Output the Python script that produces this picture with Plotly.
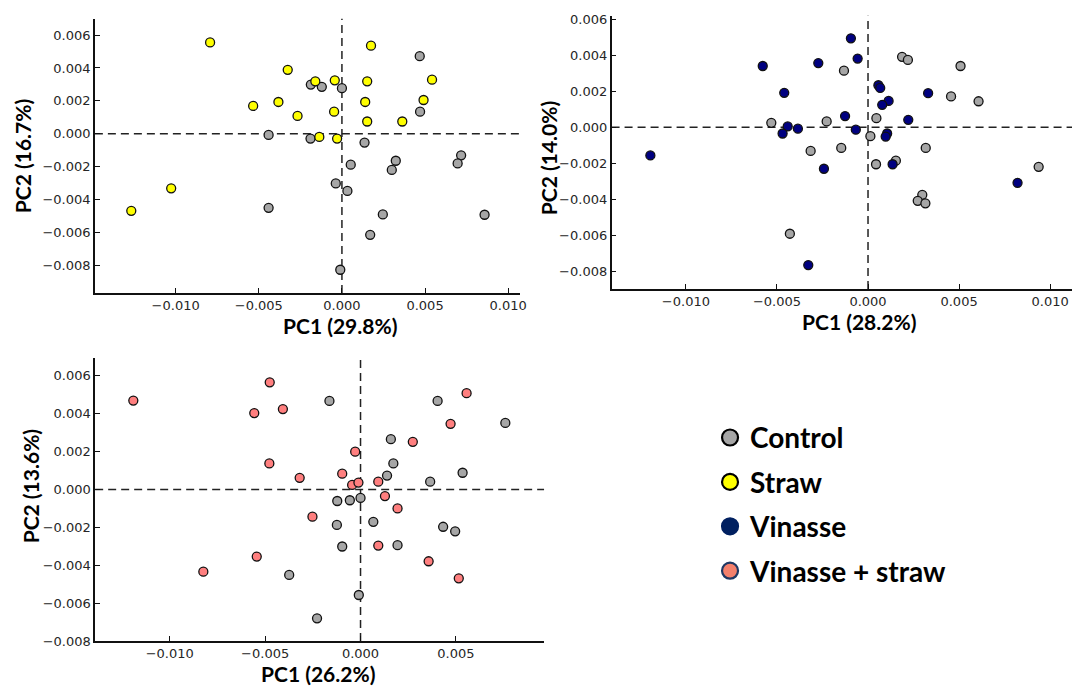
import plotly.graph_objects as go

# PCA scores, panel A: control vs straw
a_control_pc1 = [0.00468, -0.00187, -0.00121, 0.0, 0.0047, -0.00441, -0.00189, 0.00136, 0.00053, 0.00324,
                 0.003, 0.00717, 0.00696, -0.00037, 0.00033, -0.00441, 0.00246, 0.00858, 0.0017, -0.0001]
a_control_pc2 = [0.00472, 0.00299, 0.00285, 0.00277, 0.00134, -0.00008, -0.0003, -0.00054, -0.00189, -0.00165,
                 -0.00221, -0.00132, -0.00181, -0.00303, -0.00349, -0.00452, -0.00492, -0.00494, -0.00616, -0.00829]
a_straw_pc1 = [-0.00793, 0.00175, -0.00326, -0.0016, -0.00043, 0.00152, 0.00542, -0.00534, -0.00382, -0.00267,
               -0.00047, 0.0014, 0.00491, 0.00152, 0.00363, -0.00136, -0.00029, -0.01027, -0.01267]
a_straw_pc2 = [0.00556, 0.00536, 0.00389, 0.00319, 0.00325, 0.00319, 0.00329, 0.00169, 0.00193, 0.00108,
               0.00134, 0.00193, 0.00205, 0.00074, 0.00074, -0.0002, -0.0003, -0.00333, -0.0047]

# Panel B: control vs vinasse
b_control_pc1 = [0.00187, 0.00219, 0.00508, -0.00132, 0.00456, 0.00607, -0.00531, -0.00227, 0.00046, 0.00013,
                 -0.00315, -0.00147, 0.00317, 0.00044, 0.00153, 0.00937, 0.00298, 0.00273, 0.00315, -0.00429]
b_control_pc2 = [0.00392, 0.00375, 0.00341, 0.00315, 0.00172, 0.00145, 0.00025, 0.00033, 0.00051, -0.00049,
                 -0.00131, -0.00114, -0.00114, -0.00205, -0.00185, -0.00219, -0.00375, -0.00408, -0.00422, -0.00591]
b_vinasse_pc1 = [-0.00094, -0.00057, -0.00578, -0.00273, -0.0046, 0.00057, 0.00067, 0.00113, 0.00078, 0.0033,
                 -0.00126, 0.00221, -0.00441, -0.00385, -0.00469, -0.00067, 0.00105, 0.00097, -0.01195, -0.00242,
                 0.00135, 0.00821, -0.00328]
b_vinasse_pc2 = [0.00495, 0.00382, 0.00341, 0.00357, 0.00192, 0.00234, 0.00219, 0.00147, 0.00125, 0.0019,
                 0.00063, 0.00042, 0.00005, -0.00007, -0.00034, -0.00013, -0.00034, -0.00051, -0.00156, -0.0023,
                 -0.00205, -0.00308, -0.00765]

# Panel C: control vs vinasse + straw
c_control_pc1 = [-0.00163, 0.00404, 0.00759, 0.00159, 0.00172, 0.00139, 0.00535, 0.00365, -0.00122, -0.00056,
                 0.0, 0.00067, -0.00124, 0.00433, 0.00496, -0.00096, 0.00194, -0.00374, -0.00009, -0.00228]
c_control_pc2 = [0.00467, 0.00467, 0.00351, 0.00265, 0.00137, 0.00073, 0.00088, 0.00041, -0.00061, -0.00057,
                 -0.00045, -0.00171, -0.00187, -0.00197, -0.00221, -0.00301, -0.00294, -0.00451, -0.00557, -0.0068]
c_mix_pc1 = [-0.01191, -0.00476, -0.00557, -0.00407, 0.00556, 0.00472, 0.00274, -0.00028, -0.00478, -0.00319,
             -0.00096, -0.00044, -0.00011, 0.00093, 0.00128, 0.00194, -0.00252, 0.00093, -0.00544, -0.00824,
             0.00357, 0.00515]
c_mix_pc2 = [0.00469, 0.00565, 0.00403, 0.00424, 0.00508, 0.00346, 0.00251, 0.00199, 0.00137, 0.00061,
             0.00083, 0.00024, 0.00036, 0.00041, -0.00035, -0.001, -0.00144, -0.00296, -0.00354, -0.00434,
             -0.00379, -0.00469]

axis_titles = [("PC1 (29.8%)", "PC2 (16.7%)"), ("PC1 (28.2%)", "PC2 (14.0%)"), ("PC1 (26.2%)", "PC2 (13.6%)")]
legend_labels = ["Control", "Straw", "Vinasse", "Vinasse + straw"]
x_ticks = [-0.010, -0.005, 0.000, 0.005, 0.010]
y_ticks = [-0.008, -0.006, -0.004, -0.002, 0.000, 0.002, 0.004, 0.006]

GREY = "#a6a6a6"
YELLOW = "#ffff00"
NAVY = "#000080"
SALMON = "#ff7f7f"

fig = go.Figure()


def add_points(x, y, color, ax):
    fig.add_trace(go.Scatter(
        x=x, y=y, mode="markers", xaxis="x" + ax, yaxis="y" + ax, showlegend=False,
        marker=dict(size=9, color=color, line=dict(color="#111111", width=1.3)),
    ))


add_points(a_control_pc1, a_control_pc2, GREY, "")
add_points(a_straw_pc1, a_straw_pc2, YELLOW, "")
add_points(b_control_pc1, b_control_pc2, GREY, "2")
add_points(b_vinasse_pc1, b_vinasse_pc2, NAVY, "2")
add_points(c_control_pc1, c_control_pc2, GREY, "3")
add_points(c_mix_pc1, c_mix_pc2, SALMON, "3")

# Legend entries (no data of their own)
legend_styles = [
    ("#a6a6a6", "#000000"),
    ("#ffff00", "#000000"),
    ("#002060", "#002060"),
    ("#f4806c", "#1f3864"),
]
for i, (label, (fill, edge)) in enumerate(zip(legend_labels, legend_styles)):
    fig.add_trace(go.Scatter(
        x=[None], y=[None], mode="markers", name=label, legendgroup=label,
        marker=dict(size=18, color=fill, line=dict(color=edge, width=2.2)),
    ))

W, H = 1078, 693
panels = [
    # x domain px, y domain px (top, bottom), x range, y range, x-title centre px, y-title centre px
    dict(xd=(95.4, 523.4), yd=(15, 294), xr=(-0.01486, 0.01074), yr=(-0.0097, 0.0070),
         xt=(342, 327), yt=(22, 155)),
    dict(xd=(615, 1078), yd=(12, 290), xr=(-0.01408, 0.0112), yr=(-0.00898, 0.0062),
         xt=(864, 323), yt=(551, 157)),
    dict(xd=(95.7, 547.1), yd=(360.7, 648.3), xr=(-0.01391, 0.00962), yr=(-0.0080, 0.00691),
         xt=(320, 681), yt=(31, 491)),
]

tick_font = dict(family="DejaVu Sans", size=13, color="#262626")
title_font = dict(family="Lato", size=21, color="#000000", weight="bold")

layout = dict(
    width=W, height=H, margin=dict(l=0, r=0, t=0, b=0),
    paper_bgcolor="white", plot_bgcolor="white", showlegend=True,
    legend=dict(
        x=714 / W, y=1 - 416 / H, xanchor="left", yanchor="top",
        font=dict(family="Lato", size=28, color="#000000", weight="bold"),
        tracegroupgap=5, itemsizing="trace", bgcolor="rgba(0,0,0,0)",
    ),
)
shapes = []
annotations = []
for i, p in enumerate(panels):
    suffix = "" if i == 0 else str(i + 1)
    xname, yname = "xaxis" + suffix, "yaxis" + suffix
    xt, yt = axis_titles[i]
    common = dict(
        showgrid=False, zeroline=False, showline=True, linecolor="#111111", linewidth=1.5,
        ticks="inside", ticklen=5, tickwidth=1, tickcolor="#111111", tickfont=tick_font,
        mirror=False, tickformat=".3f",
    )
    layout[xname] = dict(
        common, domain=[p["xd"][0] / W, p["xd"][1] / W], range=list(p["xr"]),
        anchor="y" + suffix, tickvals=x_ticks,
    )
    layout[yname] = dict(
        common, domain=[1 - p["yd"][1] / H, 1 - p["yd"][0] / H], range=list(p["yr"]),
        anchor="x" + suffix, tickvals=y_ticks,
    )
    annotations.append(dict(
        text=xt, xref="paper", yref="paper", x=p["xt"][0] / W, y=1 - p["xt"][1] / H,
        xanchor="center", yanchor="middle", showarrow=False, font=title_font,
    ))
    annotations.append(dict(
        text=yt, xref="paper", yref="paper", x=p["yt"][0] / W, y=1 - p["yt"][1] / H,
        xanchor="center", yanchor="middle", showarrow=False, font=title_font, textangle=-90,
    ))
    xref, yref = "x" + suffix, "y" + suffix
    dash = dict(color="#222222", width=1.5, dash="8px,5px")
    shapes.append(dict(type="line", xref=xref, yref=yref + " domain", x0=0, x1=0, y0=0, y1=1, line=dash, layer="below"))
    shapes.append(dict(type="line", xref=xref + " domain", yref=yref, x0=0, x1=1, y0=0, y1=0, line=dash, layer="below"))

layout["shapes"] = shapes
layout["annotations"] = annotations
fig.update_layout(**layout)
fig.write_html("out.html")
